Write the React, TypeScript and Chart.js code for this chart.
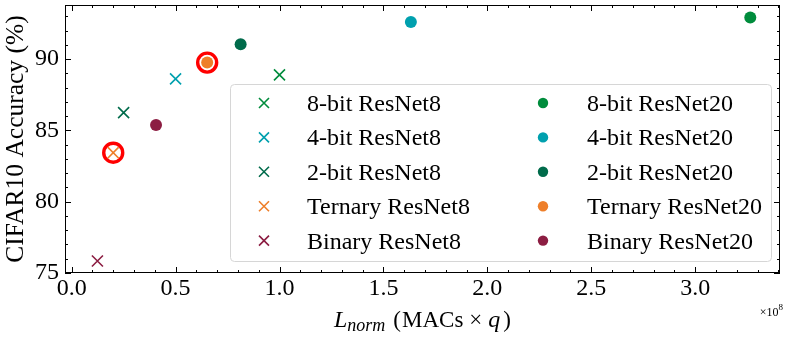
import React, { useEffect, useRef } from 'react';
import { Chart, registerables } from 'chart.js';

Chart.register(...registerables);

// ---- data (x in units of 1e8 MACs x q, y = CIFAR10 accuracy %) ----
const resnet8Labels = ['8-bit ResNet8', '4-bit ResNet8', '2-bit ResNet8', 'Ternary ResNet8', 'Binary ResNet8'];
const resnet20Labels = ['8-bit ResNet20', '4-bit ResNet20', '2-bit ResNet20', 'Ternary ResNet20', 'Binary ResNet20'];
const seriesColors = ['#008C3C', '#00A0AE', '#006B4B', '#EE7F2A', '#8C1D42'];
const resnet8Macs = [1.0, 0.5, 0.25, 0.2, 0.124];
const resnet8Acc = [88.9, 88.62, 86.25, 83.44, 75.84];
const resnet20Macs = [3.265, 1.632, 0.813, 0.652, 0.406];
const resnet20Acc = [92.92, 92.6, 91.05, 89.76, 85.38];
const highlightIndex = 3; // Ternary models are circled
const xRange = [-0.032, 3.408];
const yRange = [75, 93.8];
const xMajorStep = 0.5;
const yMajorStep = 5;

const FONT = "'Liberation Serif', 'Times New Roman', serif";

const decorPlugin = {
  id: 'decor',
  afterDraw(chart: any) {
    const { ctx, chartArea: ca } = chart;
    const xs = chart.scales.x;
    const ys = chart.scales.y;
    ctx.save();
    ctx.strokeStyle = '#000';
    ctx.lineWidth = 1;
    // inward ticks on all sides
    ctx.beginPath();
    for (let i = Math.ceil(xs.min * 10); i <= Math.floor(xs.max * 10); i++) {
      const len = i % 5 === 0 ? 6 : 3;
      const px = Math.round(xs.getPixelForValue(i / 10)) + 0.5;
      ctx.moveTo(px, ca.bottom);
      ctx.lineTo(px, ca.bottom - len);
      ctx.moveTo(px, ca.top);
      ctx.lineTo(px, ca.top + len);
    }
    for (let v = Math.ceil(ys.min); v <= Math.floor(ys.max); v++) {
      const len = v % 5 === 0 ? 6 : 3;
      const py = Math.round(ys.getPixelForValue(v)) + 0.5;
      ctx.moveTo(ca.left, py);
      ctx.lineTo(ca.left + len, py);
      ctx.moveTo(ca.right, py);
      ctx.lineTo(ca.right - len, py);
    }
    ctx.stroke();
    // frame
    ctx.strokeRect(ca.left + 0.5, ca.top + 0.5, ca.right - ca.left - 1, ca.bottom - ca.top - 1);

    // legend box
    const x0 = ca.left + 165;
    const y0 = ca.top + 79;
    const x1 = ca.right - 9;
    const y1 = ca.bottom - 12;
    ctx.beginPath();
    if ((ctx as any).roundRect) (ctx as any).roundRect(x0 + 0.5, y0 + 0.5, x1 - x0, y1 - y0, 4);
    else ctx.rect(x0 + 0.5, y0 + 0.5, x1 - x0, y1 - y0);
    ctx.fillStyle = 'rgba(255,255,255,0.9)';
    ctx.fill();
    ctx.strokeStyle = '#d6d6d6';
    ctx.stroke();

    ctx.font = `24px ${FONT}`;
    ctx.textBaseline = 'alphabetic';
    ctx.textAlign = 'left';
    for (let i = 0; i < resnet8Labels.length; i++) {
      const ry = y0 + 19 + i * 34.4;
      const c = seriesColors[i];
      const mx = x0 + 34;
      ctx.strokeStyle = c;
      ctx.lineWidth = 1.6;
      ctx.beginPath();
      ctx.moveTo(mx - 5, ry - 5);
      ctx.lineTo(mx + 5, ry + 5);
      ctx.moveTo(mx - 5, ry + 5);
      ctx.lineTo(mx + 5, ry - 5);
      ctx.stroke();
      ctx.fillStyle = '#000';
      ctx.fillText(resnet8Labels[i], x0 + 77, ry + 8);
      const cx = x0 + 313;
      ctx.fillStyle = c;
      ctx.beginPath();
      ctx.arc(cx, ry, 5.2, 0, Math.PI * 2);
      ctx.fill();
      ctx.fillStyle = '#000';
      ctx.fillText(resnet20Labels[i], x0 + 357, ry + 8);
    }

    // x-axis title: L_norm (MACs x q)
    const pieces: [string, string, number, number][] = [
      // text, font, baseline shift, gap after
      ['L', `italic 24px ${FONT}`, 0, 0],
      ['norm', `italic 18px ${FONT}`, 4, 8],
      ['(', `23px ${FONT}`, 0, 1],
      ['MACs', `23px ${FONT}`, 0, 6],
      ['\u00D7', `23px ${FONT}`, 0, 6],
      ['q', `italic 24px ${FONT}`, 0, 3],
      [')', `23px ${FONT}`, 0, 0],
    ];
    let total = 0;
    for (const p of pieces) {
      ctx.font = p[1];
      total += ctx.measureText(p[0]).width + p[3];
    }
    let px = (ca.left + ca.right) / 2 - total / 2;
    const by = ca.bottom + 54;
    ctx.fillStyle = '#000';
    for (const p of pieces) {
      ctx.font = p[1];
      ctx.fillText(p[0], px, by + p[2]);
      px += ctx.measureText(p[0]).width + p[3];
    }

    // offset text x10^8
    ctx.textAlign = 'right';
    ctx.font = `9px ${FONT}`;
    ctx.fillText('8', ca.right + 3, ca.bottom + 37);
    ctx.font = `12px ${FONT}`;
    ctx.fillText('\u00D710', ca.right - 1.5, ca.bottom + 43);
    ctx.restore();
  },
};

export default function App() {
  const ref = useRef<HTMLCanvasElement | null>(null);
  useEffect(() => {
    if (!ref.current) return;
    const datasets: any[] = [];
    for (let i = 0; i < resnet8Labels.length; i++) {
      datasets.push({
        label: resnet8Labels[i],
        data: [{ x: resnet8Macs[i], y: resnet8Acc[i] }],
        pointStyle: 'crossRot',
        pointRadius: 7.8,
        borderColor: seriesColors[i],
        backgroundColor: seriesColors[i],
        borderWidth: 1.6,
      });
    }
    for (let i = 0; i < resnet20Labels.length; i++) {
      datasets.push({
        label: resnet20Labels[i],
        data: [{ x: resnet20Macs[i], y: resnet20Acc[i] }],
        pointStyle: 'circle',
        pointRadius: 6,
        borderWidth: 0,
        borderColor: seriesColors[i],
        backgroundColor: seriesColors[i],
      });
    }
    datasets.push({
      label: 'highlight',
      data: [
        { x: resnet8Macs[highlightIndex], y: resnet8Acc[highlightIndex] },
        { x: resnet20Macs[highlightIndex], y: resnet20Acc[highlightIndex] },
      ],
      pointStyle: 'circle',
      pointRadius: 9.5,
      borderWidth: 3.4,
      borderColor: '#FF0000',
      backgroundColor: 'rgba(0,0,0,0)',
    });

    const chart = new Chart(ref.current, {
      type: 'scatter',
      data: { datasets },
      options: {
        animation: false,
        responsive: true,
        maintainAspectRatio: false,
        layout: { autoPadding: false, padding: { top: 5, right: 9, left: 0, bottom: 0 } },
        plugins: { legend: { display: false }, tooltip: { enabled: false } },
        scales: {
          x: {
            type: 'linear',
            min: xRange[0],
            max: xRange[1],
            afterFit: (s: any) => {
              s.height = 66;
              s.paddingLeft = 0;
              s.paddingRight = 0;
            },
            grid: { display: false, drawTicks: false },
            border: { display: false },
            ticks: {
              stepSize: xMajorStep,
              includeBounds: false,
              padding: 1,
              color: '#000',
              font: { family: FONT, size: 24 },
              maxRotation: 0,
              callback: (v: any) => Number(v).toFixed(1),
            },
          },
          y: {
            type: 'linear',
            min: yRange[0],
            max: yRange[1],
            afterFit: (s: any) => {
              s.width = 65;
              s.paddingTop = 0;
              s.paddingBottom = 0;
            },
            grid: { display: false, drawTicks: false },
            border: { display: false },
            title: {
              display: true,
              text: 'CIFAR10 Accuracy (%)',
              color: '#000',
              font: { family: FONT, size: 25.5 },
              padding: { top: 1, bottom: 0 },
            },
            ticks: {
              stepSize: yMajorStep,
              includeBounds: false,
              padding: 6,
              color: '#000',
              font: { family: FONT, size: 24 },
              callback: (v: any) => String(v),
            },
          },
        },
      },
      plugins: [decorPlugin],
    });
    return () => chart.destroy();
  }, []);

  return (
    <div style={{ position: 'fixed', left: 0, top: 0, width: 789, height: 339, background: '#fff' }}>
      <canvas ref={ref} />
    </div>
  );
}
